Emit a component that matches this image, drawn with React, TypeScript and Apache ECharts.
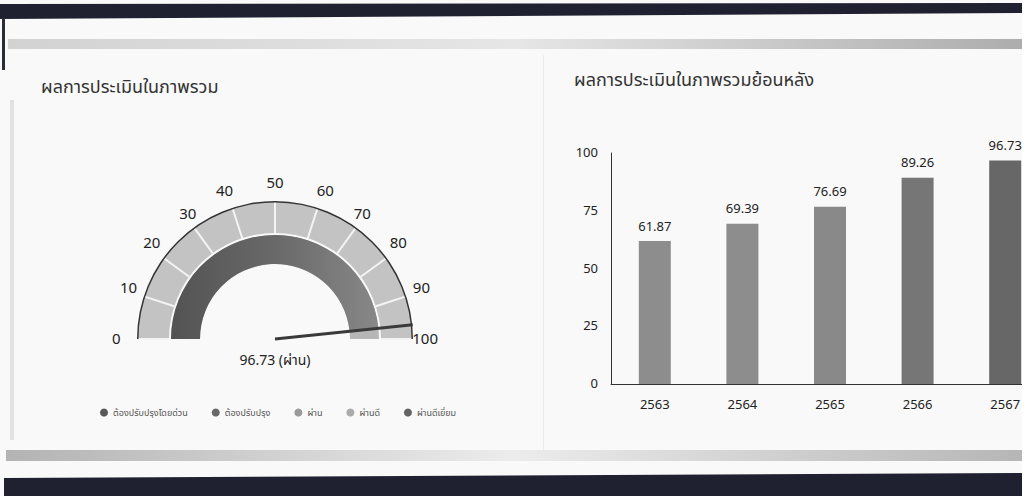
import React, { useEffect, useRef } from 'react';
import * as echarts from 'echarts';

const years = ['2563', '2564', '2565', '2566', '2567'];
const scores = [61.87, 69.39, 76.69, 89.26, 96.73];
const barColors = ['#8d8d8d', '#8d8d8d', '#898989', '#767676', '#676767'];
const overallScore = 96.73;
const overallLevel = 'ผ่าน';
const levelNames = ['ต้องปรับปรุงโดยด่วน', 'ต้องปรับปรุง', 'ผ่าน', 'ผ่านดี', 'ผ่านดีเยี่ยม'];
const levelColors = ['#595959', '#686868', '#9a9a9a', '#ababab', '#646464'];
const gaugeMin = 0;
const gaugeMax = 100;
const gaugeSplits = 10;
const yMin = 0;
const yMax = 100;
const yInterval = 25;
const leftTitle = 'ผลการประเมินในภาพรวม';
const rightTitle = 'ผลการประเมินในภาพรวมย้อนหลัง';

const FONT = "'Noto Sans Thai', 'Noto Sans', 'Open Sans', sans-serif";

export default function App() {
  const ref = useRef<HTMLDivElement>(null);
  useEffect(() => {
    document.body.style.margin = '0';
    document.body.style.background = '#ffffff';
    const chart = echarts.init(ref.current!, null, { renderer: 'svg' });
    const center = [275, 339];
    chart.setOption({
      animation: false,
      backgroundColor: '#f9f9f9',
      textStyle: { fontFamily: FONT },
      graphic: [
        { type: 'polygon', shape: { points: [[0, 4], [1022, 3], [1022, 13], [0, 19]] }, style: { fill: '#1f2131' }, z: 0 },
        { type: 'rect', shape: { x: 2, y: 18, width: 3, height: 52 }, style: { fill: '#2a2c3a' }, z: 0 },
        {
          type: 'rect', shape: { x: 8, y: 39, width: 1014, height: 10 },
          style: {
            fill: new echarts.graphic.LinearGradient(0, 0, 1, 0, [
              { offset: 0, color: '#d2d2d2' }, { offset: 0.5, color: '#e6e6e6' }, { offset: 1, color: '#adadad' },
            ]),
          },
          z: 0,
        },
        { type: 'rect', shape: { x: 10, y: 100, width: 4, height: 340 }, style: { fill: '#e2e2e2' }, z: 0 },
        { type: 'rect', shape: { x: 543, y: 55, width: 1, height: 395 }, style: { fill: '#ececec' }, z: 0 },
        {
          type: 'rect', shape: { x: 6, y: 450, width: 1016, height: 11 },
          style: {
            fill: new echarts.graphic.LinearGradient(0, 0, 1, 0, [
              { offset: 0, color: '#b3b3b3' }, { offset: 0.5, color: '#ececec' }, { offset: 1, color: '#b6b6b6' },
            ]),
          },
          z: 0,
        },
        { type: 'polygon', shape: { points: [[4, 478], [1022, 473], [1022, 496], [4, 496]] }, style: { fill: '#1f2131' }, z: 0 },
      ],
      title: [
        { text: leftTitle, left: 36, top: 73, textStyle: { fontSize: 18, fontWeight: 'normal', color: '#333', fontFamily: FONT } },
        { text: rightTitle, left: 569, top: 66, textStyle: { fontSize: 18, fontWeight: 'normal', color: '#333', fontFamily: FONT } },
      ],
      legend: {
        data: levelNames,
        left: 95,
        top: 403,
        icon: 'circle',
        itemWidth: 8,
        itemHeight: 8,
        itemGap: 24,
        textStyle: { fontSize: 9, color: '#555', fontFamily: FONT },
        selectedMode: false,
      },
      grid: { left: 611, top: 153, width: 438, height: 231 },
      xAxis: {
        type: 'category',
        data: years,
        axisLine: { lineStyle: { color: '#333', width: 1 } },
        axisTick: { show: false },
        axisLabel: { color: '#222', fontSize: 13, margin: 14, fontFamily: FONT },
      },
      yAxis: {
        type: 'value',
        min: yMin,
        max: yMax,
        interval: yInterval,
        axisLine: { show: true, lineStyle: { color: '#333', width: 1 } },
        splitLine: { show: false },
        axisLabel: { color: '#222', fontSize: 13, margin: 13, fontFamily: FONT },
      },
      series: [
        {
          type: 'bar',
          data: scores.map((v, i) => ({ value: v, itemStyle: { color: barColors[i] } })),
          barWidth: 32,
          label: { show: true, position: 'top', distance: 8, color: '#222', fontSize: 13, fontFamily: FONT },
        },
        {
          type: 'pie',
          radius: [0, 0],
          center: [-200, -200],
          showEmptyCircle: false,
          stillShowZeroSum: false,
          silent: true,
          label: { show: false },
          data: levelNames.map((n, i) => ({ name: n, value: 0, itemStyle: { color: levelColors[i] } })),
        },
        {
          type: 'gauge',
          center,
          radius: 104,
          startAngle: 180,
          endAngle: 0,
          min: gaugeMin,
          max: gaugeMax,
          axisLine: { lineStyle: { width: 29, color: [[1, '#b6b6b6']] } },
          progress: {
            show: true,
            width: 29,
            itemStyle: {
              color: new echarts.graphic.LinearGradient(0, 0, 1, 0, [
                { offset: 0, color: '#535353' },
                { offset: 0.5, color: '#696969' },
                { offset: 1, color: '#888888' },
              ]),
            },
          },
          splitLine: { show: false },
          axisTick: { show: false },
          axisLabel: { show: false },
          pointer: { show: false },
          anchor: { show: false },
          title: { show: false },
          detail: { show: false },
          data: [{ value: overallScore }],
          z: 2,
        },
        {
          type: 'gauge',
          center,
          radius: 137,
          startAngle: 180,
          endAngle: 0,
          min: gaugeMin,
          max: gaugeMax,
          splitNumber: gaugeSplits,
          axisLine: { lineStyle: { width: 31, color: [[1, '#c3c3c3']] } },
          splitLine: { distance: -31, length: 31, lineStyle: { color: '#f4f4f4', width: 2 } },
          axisTick: { show: false },
          axisLabel: { distance: -26, color: '#222', fontSize: 15, fontFamily: FONT },
          pointer: {
            show: true,
            icon: 'rect',
            length: '101%',
            width: 3,
            offsetCenter: [0, 0],
            itemStyle: { color: '#3a3a3a' },
          },
          anchor: { show: false },
          title: { show: false },
          detail: {
            show: true,
            offsetCenter: [0, 21],
            fontSize: 14,
            color: '#222',
            fontWeight: 'normal',
            fontFamily: FONT,
            formatter: (v: number) => `${v.toFixed(2)} (${overallLevel})`,
          },
          data: [{ value: overallScore }],
          z: 3,
        },
        {
          type: 'gauge',
          center,
          radius: 138,
          startAngle: 180,
          endAngle: 0,
          min: gaugeMin,
          max: gaugeMax,
          axisLine: { lineStyle: { width: 1.5, color: [[1, '#333']] } },
          splitLine: { show: false },
          axisTick: { show: false },
          axisLabel: { show: false },
          pointer: { show: false },
          anchor: { show: false },
          title: { show: false },
          detail: { show: false },
          data: [{ value: overallScore }],
          z: 4,
        },
      ],
    });
    return () => chart.dispose();
  }, []);
  return (
    <div style={{ position: 'absolute', left: 0, top: 0, width: 1022, height: 496, overflow: 'hidden' }}>
      <div ref={ref} style={{ width: 1070, height: 496 }} />
    </div>
  );
}
